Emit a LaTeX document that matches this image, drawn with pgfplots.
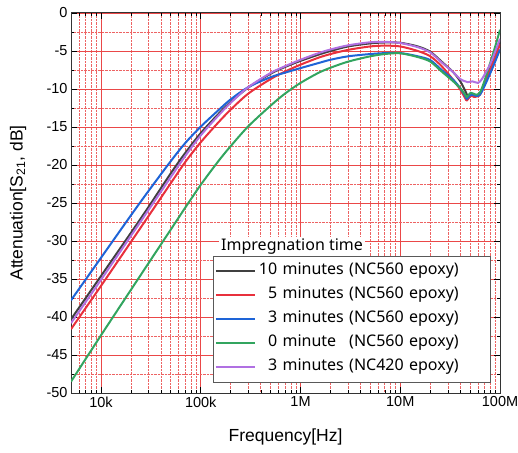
\documentclass[border=0pt]{standalone}
\usepackage{pgfplots}
\pgfplotsset{compat=1.18}
\usepackage{fontspec}
\setmainfont{Liberation Sans}
\newfontfamily\legfont{Noto Sans}
\definecolor{gridred}{RGB}{234,72,72}
\definecolor{cblack}{RGB}{64,64,64}
\definecolor{cred}{RGB}{232,48,60}
\definecolor{cblue}{RGB}{30,100,215}
\definecolor{cgreen}{RGB}{50,165,95}
\definecolor{cpurple}{RGB}{176,112,226}
\begin{document}
\begin{tikzpicture}
\begin{semilogxaxis}[
  name=ax, scale only axis, width=429pt, height=380pt,
  xmin=5000, xmax=1e8, ymin=-50, ymax=0,
  xtick={1e4,1e5,1e6,1e7,1e8}, xticklabels={10k,100k,1M,10M,100M},
  minor xtick={6000,7000,8000,9000,2e4,3e4,4e4,5e4,6e4,7e4,8e4,9e4,2e5,3e5,4e5,5e5,6e5,7e5,8e5,9e5,2e6,3e6,4e6,5e6,6e6,7e6,8e6,9e6,2e7,3e7,4e7,5e7,6e7,7e7,8e7,9e7},
  ytick={-50,-45,-40,-35,-30,-25,-20,-15,-10,-5,0},
  yticklabels={-50,-45,-40,-35,-30,-25,-20,-15,-10,-5,0},
  minor ytick={-47.5,-42.5,-37.5,-32.5,-27.5,-22.5,-17.5,-12.5,-7.5,-2.5},
  grid=both,
  major grid style={gridred, line width=0.7pt},
  minor grid style={gridred!85, densely dotted, line width=0.7pt},
  tick align=inside, major tick length=6pt, minor tick length=3.5pt,
  tick style={black, line width=0.6pt},
  axis line style={black!80, line width=1pt},
  ticklabel style={font=\fontsize{14.5}{17}\selectfont},
  xlabel={Frequency[Hz]},
  ylabel={Attenuation[S\textsubscript{21}, dB]},
  label style={font=\fontsize{17.5}{21}\selectfont},
  xlabel style={at={(rel axis cs:0.5,-0.116)}, anchor=center},
  ylabel style={at={(rel axis cs:-0.1235,0.5)}, anchor=center},
  legend image code/.code={\draw[#1, line width=2pt, sharp plot] (0pt,0pt) -- (39pt,0pt);},
  legend cell align=left,
  legend style={at={(0.977,0.029)}, anchor=south east,
    draw=black!65, fill=white,
    font=\legfont\fontsize{16}{19}\selectfont,
    inner xsep=2pt, inner ysep=3pt,
    nodes={text height=13pt, text depth=5pt, inner ysep=3pt, inner xsep=3pt},
    /tikz/every even column/.append style={text width=226pt}},
]
\addplot[cblack, line width=2pt, smooth, tension=0.5] coordinates {(5e3,-40.3)(1e4,-34.6)(2e4,-28.9)(3e4,-25.5)(5e4,-21.1)(7e4,-18.4)(1e5,-15.8)(1.5e5,-13.3)(2e5,-11.7)(3e5,-9.8)(5e5,-8.0)(7e5,-7.1)(1e6,-6.3)(1.5e6,-5.5)(2e6,-5.0)(3e6,-4.4)(5e6,-4.0)(7e6,-3.88)(1e7,-3.92)(1.5e7,-4.4)(2e7,-5.1)(2.6e7,-6.4)(3.4e7,-7.8)(4e7,-9.0)(4.5e7,-10.3)(4.75e7,-10.9)(5.1e7,-10.6)(5.5e7,-10.8)(6e7,-10.9)(6.5e7,-10.3)(7e7,-9.2)(8e7,-6.9)(9e7,-5.2)(1e8,-3.8)};
\addlegendentry{10 minutes (NC560 epoxy)}
\addplot[cred, line width=2pt, smooth, tension=0.5] coordinates {(5e3,-41.6)(1e4,-35.9)(2e4,-30.1)(3e4,-26.7)(5e4,-22.4)(7e4,-19.6)(1e5,-17.0)(1.5e5,-14.4)(2e5,-12.7)(3e5,-10.6)(5e5,-8.7)(7e5,-7.7)(1e6,-6.8)(1.5e6,-5.9)(2e6,-5.4)(3e6,-4.85)(5e6,-4.4)(7e6,-4.3)(1e7,-4.4)(1.5e7,-5.0)(2e7,-5.7)(2.6e7,-7.0)(3.4e7,-8.8)(4e7,-10.1)(4.47e7,-11.2)(4.65e7,-11.5)(5.1e7,-10.9)(5.5e7,-11.05)(6.15e7,-10.9)(6.5e7,-10.4)(7e7,-9.4)(8e7,-7.4)(9e7,-5.8)(1e8,-4.1)};
\addlegendentry{\phantom{1}5 minutes (NC560 epoxy)}
\addplot[cblue, line width=2pt, smooth, tension=0.5] coordinates {(5e3,-37.8)(1e4,-32.2)(2e4,-26.6)(3e4,-23.4)(5e4,-19.5)(7e4,-17.1)(1e5,-14.95)(1.5e5,-12.8)(2e5,-11.35)(3e5,-9.75)(5e5,-8.45)(7e5,-7.85)(1e6,-7.25)(1.5e6,-6.6)(2e6,-6.15)(3e6,-5.7)(5e6,-5.4)(7e6,-5.28)(1e7,-5.27)(1.5e7,-5.7)(2e7,-6.2)(2.6e7,-7.5)(3.4e7,-8.8)(4e7,-9.9)(4.47e7,-10.9)(4.65e7,-11.3)(5.1e7,-10.75)(5.75e7,-10.9)(6.3e7,-10.75)(7e7,-9.6)(8e7,-7.9)(9e7,-6.3)(1e8,-4.8)};
\addlegendentry{\phantom{1}3 minutes (NC560 epoxy)}
\addplot[cgreen, line width=2pt, smooth, tension=0.5] coordinates {(5e3,-48.5)(1e4,-42.4)(2e4,-36.4)(3e4,-32.9)(5e4,-28.5)(7e4,-25.6)(1e5,-22.6)(1.5e5,-19.5)(2e5,-17.5)(3e5,-14.9)(5e5,-12.2)(7e5,-10.6)(1e6,-9.2)(1.5e6,-7.9)(2e6,-7.2)(3e6,-6.4)(5e6,-5.7)(7e6,-5.4)(1e7,-5.3)(1.5e7,-5.8)(2e7,-6.4)(2.6e7,-7.7)(3.4e7,-9.0)(4e7,-9.9)(4.47e7,-10.75)(4.65e7,-11.05)(5.1e7,-10.5)(5.75e7,-10.75)(6.3e7,-10.45)(7e7,-8.9)(8e7,-6.5)(9e7,-4.3)(1e8,-2.2)};
\addlegendentry{\phantom{1}0 minute\phantom{s} (NC560 epoxy)}
\addplot[cpurple, line width=2pt, smooth, tension=0.5] coordinates {(5e3,-40.8)(1e4,-35.1)(2e4,-29.3)(3e4,-25.9)(5e4,-21.6)(7e4,-18.8)(1e5,-16.1)(1.5e5,-13.5)(2e5,-11.8)(3e5,-9.75)(5e5,-7.9)(7e5,-7.0)(1e6,-6.15)(1.5e6,-5.3)(2e6,-4.8)(3e6,-4.25)(5e6,-3.85)(7e6,-3.8)(1e7,-3.95)(1.5e7,-4.5)(2e7,-5.2)(2.6e7,-6.5)(3.4e7,-7.8)(4e7,-8.7)(4.5e7,-9.0)(4.75e7,-9.1)(5.3e7,-9.0)(6e7,-9.2)(6.5e7,-8.8)(7e7,-8.1)(8e7,-6.7)(9e7,-5.0)(1e8,-3.4)};
\addlegendentry{\phantom{1}3 minutes (NC420 epoxy)}
\node[fill=white, inner sep=2pt, anchor=south west, font=\legfont\fontsize{16}{19}\selectfont] at (rel axis cs:0.345,0.358) {Impregnation time};
\end{semilogxaxis}
\pgfresetboundingbox
\path ([xshift=-71pt,yshift=-59pt]ax.south west) rectangle ([xshift=18pt,yshift=13pt]ax.north east);
\end{tikzpicture}
\end{document}
